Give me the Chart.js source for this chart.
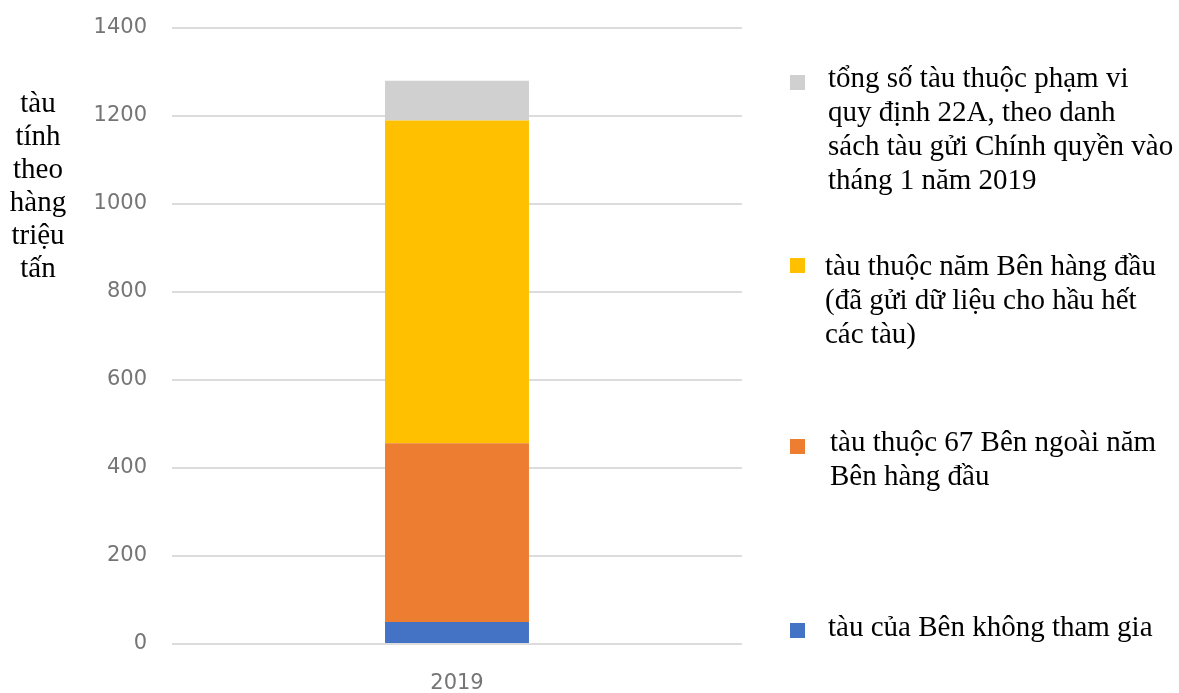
<!DOCTYPE html>
<html>
<head>
<meta charset="utf-8">
<script src="https://cdn.jsdelivr.net/npm/chart.js@4/dist/chart.umd.min.js"></script>
<style>
  html, body { margin: 0; padding: 0; background: #fff; }
  #wrap { position: relative; width: 1179px; height: 693px; overflow: hidden; }
  canvas { position: absolute; left: 0; top: 0; }
  .serif { font-family: "Liberation Serif", "Times New Roman", serif; font-size: 29px; line-height: 34px; color: #000; white-space: nowrap; position: absolute; }
  #ytitle { left: 0; width: 76px; top: 86px; line-height: 33px; text-align: center; }
  .sw { position: absolute; width: 15px; height: 15px; }
</style>
</head>
<body>
<div id="wrap">
  <canvas id="c" width="1179" height="693"></canvas>
  <div id="ytitle" class="serif"></div>
  <div id="legend"></div>
</div>
<script>
// ---- data ----
const categories = ['2019'];
const seriesNames = [
  'tàu của Bên không tham gia',
  'tàu thuộc 67 Bên ngoài năm\nBên hàng đầu',
  'tàu thuộc năm Bên hàng đầu\n(đã gửi dữ liệu cho hầu hết\ncác tàu)',
  'tổng số tàu thuộc phạm vi\nquy định 22A, theo danh\nsách tàu gửi Chính quyền vào\ntháng 1 năm 2019'
];
const nonParticipating = [50];
const outsideTopFive = [406];
const topFive = [734];
const remainingShips = [90];
const seriesColors = ['#4472C4', '#ED7D31', '#FFC000', '#D0D0D0'];
const yAxisTitle = ['tàu', 'tính', 'theo', 'hàng', 'triệu', 'tấn'];
const yMax = 1400;
const yStep = 200;

const seriesValues = [nonParticipating, outsideTopFive, topFive, remainingShips];

const datasets = seriesValues.map((vals, i) => ({
  label: seriesNames[i],
  data: vals,
  backgroundColor: seriesColors[i],
  borderWidth: 0,
  categoryPercentage: 0.5,
  barPercentage: 0.505
}));

new Chart(document.getElementById('c'), {
  type: 'bar',
  data: { labels: categories, datasets },
  options: {
    responsive: false,
    animation: false,
    devicePixelRatio: 1,
    layout: { padding: { top: 28, right: 437, bottom: 0, left: 0 } },
    plugins: { legend: { display: false }, tooltip: { enabled: false } },
    scales: {
      x: {
        stacked: true,
        grid: { display: false, drawTicks: false },
        border: { display: false },
        ticks: { color: '#757575', font: { family: 'DejaVu Sans', size: 21 }, padding: 27 },
        afterFit: s => { s.height = 49; }
      },
      y: {
        stacked: true,
        min: 0, max: yMax,
        grid: { color: '#dcdcdc', lineWidth: 2, drawTicks: true, tickLength: 25, tickColor: 'rgba(0,0,0,0)' },
        border: { display: false },
        ticks: { stepSize: yStep, color: '#757575', font: { family: 'DejaVu Sans', size: 21 }, padding: 0,
                 callback: v => String(v) },
        afterFit: s => { s.width = 172; }
      }
    }
  }
});

// y-axis title (HTML text)
document.getElementById('ytitle').innerHTML = yAxisTitle.join('<br>');

// legend (HTML, generated from series names/colours)
const legendPos = [
  { sq: [790, 75], text: [828, 60] },
  { sq: [790, 258], text: [825, 248] },
  { sq: [790, 439], text: [830, 424] },
  { sq: [790, 623], text: [828, 609] }
];
const legend = document.getElementById('legend');
[3, 2, 1, 0].forEach((si, k) => {
  const p = legendPos[k];
  const sw = document.createElement('div');
  sw.className = 'sw';
  sw.style.left = p.sq[0] + 'px';
  sw.style.top = p.sq[1] + 'px';
  sw.style.background = seriesColors[si];
  legend.appendChild(sw);
  const t = document.createElement('div');
  t.className = 'serif';
  t.style.left = p.text[0] + 'px';
  t.style.top = p.text[1] + 'px';
  t.innerHTML = seriesNames[si].split('\n').join('<br>');
  legend.appendChild(t);
});
</script>
</body>
</html>
